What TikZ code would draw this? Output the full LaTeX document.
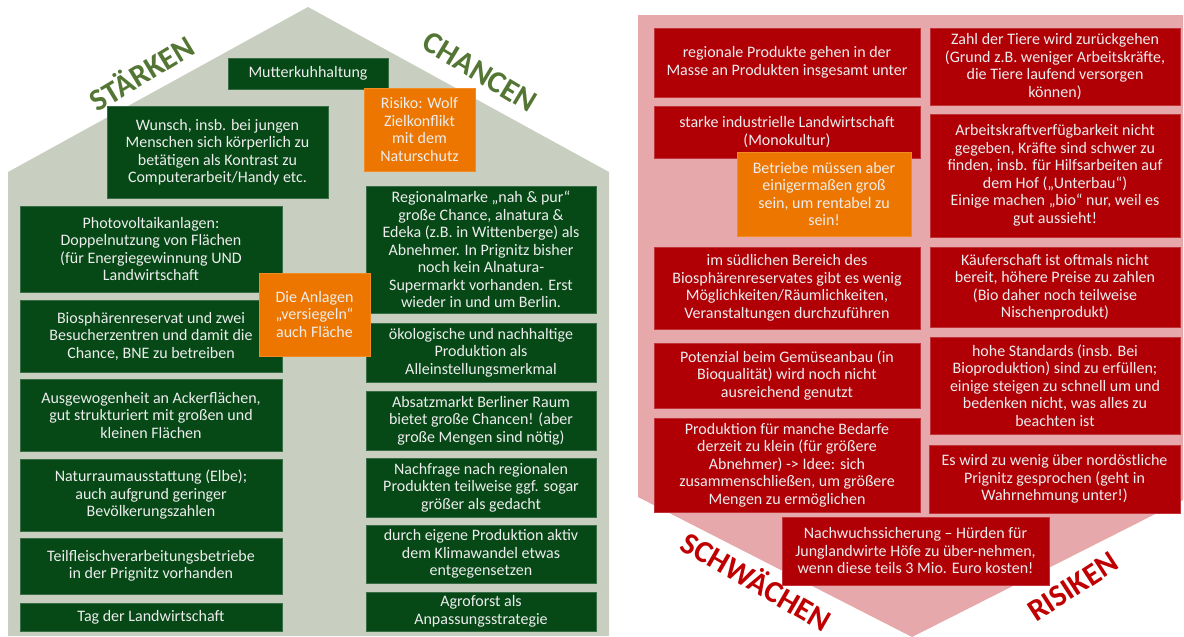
\documentclass[tikz,border=0pt]{standalone}
\usepackage{fontspec}
\setmainfont{Carlito}
\definecolor{housegray}{RGB}{201,207,192}
\definecolor{roofpink}{RGB}{230,168,170}
\definecolor{boxgreen}{RGB}{6,72,22}
\definecolor{boxred}{RGB}{176,0,6}
\definecolor{boxorange}{RGB}{237,118,0}
\definecolor{labelgreen}{RGB}{84,118,52}
\definecolor{labelred}{RGB}{192,0,0}

\begin{document}
\begin{tikzpicture}[x=1pt, y=-1pt,
    card/.style={anchor=north west, align=center, text=white!93!black, inner xsep=2pt, inner ysep=1pt,
      outer sep=0pt, line width=0.6pt, font=\fontsize{16}{17.5}\selectfont},
    wh/.style 2 args={minimum width=#1pt, minimum height=#2pt},
    gcard/.style={card, fill=boxgreen, draw=boxgreen!80!white},
    rcard/.style={card, fill=boxred, draw=boxred!80!white},
    ocard/.style={card, fill=boxorange, draw=boxorange!85!white},
    swot/.style={font=\fontsize{31}{31}\selectfont\bfseries}]
    \useasboundingbox (0,0) rectangle (1184,637);
    % Draw the house and the pink shield
    \fill[housegray] (8,172) -- (308,7) -- (609,172) -- (609,636) -- (8,636) -- cycle;
    \fill[roofpink] (638,15) -- (1183,15) -- (1183,500) -- (912,637) -- (638,497) -- cycle;
    % Draw the four headings
    \node[swot, text=labelgreen, rotate=31] (staerken) at (141,72) {STÄRKEN};
    \node[swot, text=labelgreen, rotate=-31] (chancen) at (480,72) {CHANCEN};
    \node[swot, text=labelred, rotate=-30] (schwaechen) at (757,580) {SCHWÄCHEN};
    \node[swot, text=labelred, rotate=33] (risiken) at (1073,587) {RISIKEN};
    % Strengths
    \node[gcard, wh={160}{31}] (mutter) at (228,58) {Mutterkuhhaltung};
    \node[gcard, wh={221}{92}] (wunsch) at (107,106) {Wunsch, insb. bei jungen\\Menschen sich körperlich zu\\betätigen als Kontrast zu\\Computerarbeit/Handy etc.};
    \node[gcard, wh={262}{86}] (pv) at (20,206) {Photovoltaikanlagen:\\Doppelnutzung von Flächen\\(für Energiegewinnung UND\\Landwirtschaft};
    \node[gcard, wh={262}{72}] (bio) at (20,300) {Biosphärenreservat und zwei\\Besucherzentren und damit die\\Chance, BNE zu betreiben};
    \node[gcard, wh={262}{72}] (acker) at (20,379) {Ausgewogenheit an Ackerflächen,\\gut strukturiert mit großen und\\kleinen Flächen};
    \node[gcard, wh={262}{72}] (natur) at (20,459) {Naturraumausstattung (Elbe);\\auch aufgrund geringer\\Bevölkerungszahlen};
    \node[gcard, wh={262}{56}] (fleisch) at (20,538) {Teilfleischverarbeitungsbetriebe\\in der Prignitz vorhanden};
    \node[gcard, wh={262}{28}] (tag) at (20,603) {Tag der Landwirtschaft};
    % Opportunities
    \node[gcard, wh={230}{127}] (regio) at (366,186) {Regionalmarke „nah \& pur“\\große Chance, alnatura \&\\Edeka (z.B. in Wittenberge) als\\Abnehmer. In Prignitz bisher\\noch kein Alnatura-\\Supermarkt vorhanden. Erst\\wieder in und um Berlin.};
    \node[gcard, wh={230}{59}] (oeko) at (366,323) {ökologische und nachhaltige\\Produktion als\\Alleinstellungsmerkmal};
    \node[gcard, wh={230}{59}] (absatz) at (366,391) {Absatzmarkt Berliner Raum\\bietet große Chancen! (aber\\große Mengen sind nötig)};
    \node[gcard, wh={230}{59}] (nachfrage) at (366,458) {Nachfrage nach regionalen\\Produkten teilweise ggf. sogar\\größer als gedacht};
    \node[gcard, wh={230}{58}] (klima) at (366,525) {durch eigene Produktion aktiv\\dem Klimawandel etwas\\entgegensetzen};
    \node[gcard, wh={230}{39}] (agro) at (366,592) {Agroforst als\\Anpassungsstrategie};
    % Orange remarks
    \node[ocard, wh={111}{83}] (wolf) at (364,88) {Risiko: Wolf\\Zielkonflikt\\mit dem\\Naturschutz};
    \node[ocard, wh={111}{83}] (anlagen) at (259,273) {Die Anlagen\\„versiegeln“\\auch Fläche};
    % Weaknesses
    \node[rcard, wh={266}{69}] (masse) at (654,28) {regionale Produkte gehen in der\\Masse an Produkten insgesamt unter};
    \node[rcard, wh={266}{52}] (industrie) at (654,106) {starke industrielle Landwirtschaft\\(Monokultur)};
    \node[rcard, wh={266}{82}] (sueden) at (654,247) {im südlichen Bereich des\\Biosphärenreservates gibt es wenig\\Möglichkeiten/Räumlichkeiten,\\Veranstaltungen durchzuführen};
    \node[rcard, wh={266}{65}] (gemuese) at (654,343) {Potenzial beim Gemüseanbau (in\\Bioqualität) wird noch nicht\\ausreichend genutzt};
    \node[rcard, wh={266}{94}] (bedarfe) at (654,418) {Produktion für manche Bedarfe\\derzeit zu klein (für größere\\Abnehmer) -> Idee: sich\\zusammenschließen, um größere\\Mengen zu ermöglichen};
    % Threats
    \node[rcard, wh={250}{77}] (tiere) at (930,28) {Zahl der Tiere wird zurückgehen\\(Grund z.B. weniger Arbeitskräfte,\\die Tiere laufend versorgen\\können)};
    \node[rcard, wh={250}{123}] (arbeit) at (930,114) {Arbeitskraftverfügbarkeit nicht\\gegeben, Kräfte sind schwer zu\\finden, insb. für Hilfsarbeiten auf\\dem Hof („Unterbau“)\\Einige machen „bio“ nur, weil es\\gut aussieht!};
    \node[rcard, wh={250}{80}] (kaeufer) at (930,247) {Käuferschaft ist oftmals nicht\\bereit, höhere Preise zu zahlen\\(Bio daher noch teilweise\\Nischenprodukt)};
    \node[rcard, wh={250}{97}] (standards) at (930,337) {hohe Standards (insb. Bei\\Bioproduktion) sind zu erfüllen;\\einige steigen zu schnell um und\\bedenken nicht, was alles zu\\beachten ist};
    \node[rcard, wh={251}{68}] (nordost) at (929,445) {Es wird zu wenig über nordöstliche\\Prignitz gesprochen (geht in\\Wahrnehmung unter!)};
    \node[rcard, wh={267}{68}] (nachwuchs) at (782,517) {Nachwuchssicherung – Hürden für\\Junglandwirte Höfe zu über-nehmen,\\wenn diese teils 3 Mio. Euro kosten!};
    \node[ocard, wh={174}{84}] (betriebe) at (737,152) {Betriebe müssen aber\\einigermaßen groß\\sein, um rentabel zu\\sein!};
  \end{tikzpicture}
\end{document}
